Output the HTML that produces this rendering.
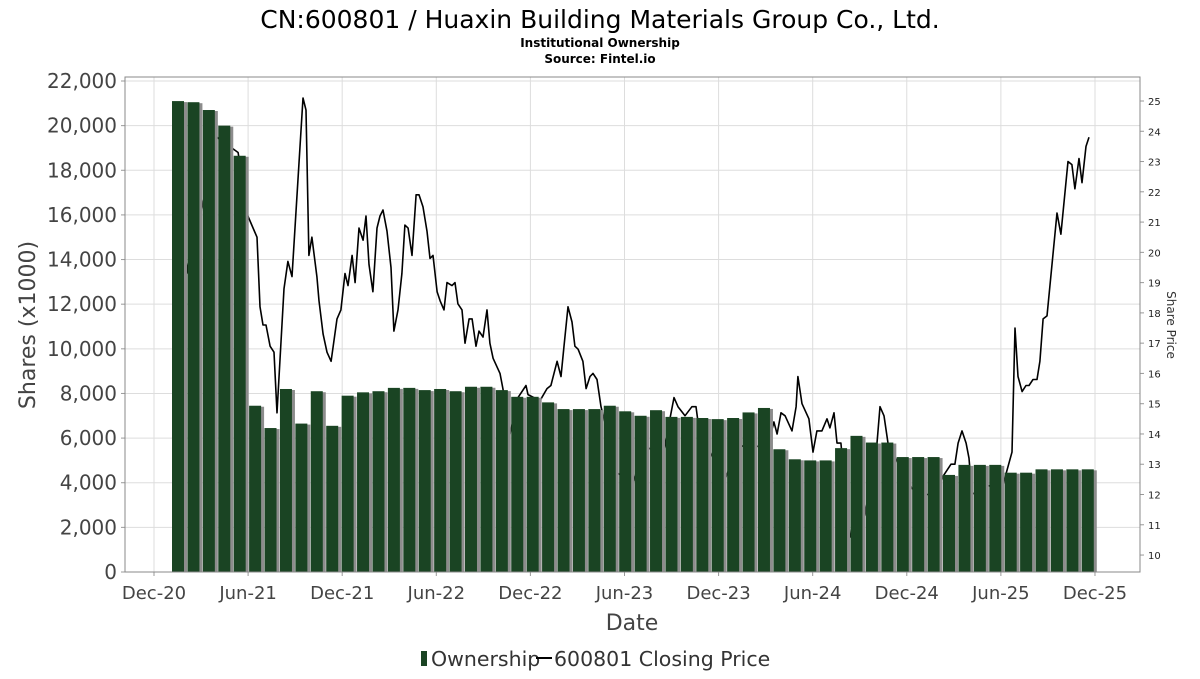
<!DOCTYPE html>
<html><head><meta charset="utf-8"><style>
body{margin:0;background:#fff;width:1200px;height:675px;overflow:hidden;font-family:"DejaVu Sans","Liberation Sans",sans-serif}
svg text{font-family:"DejaVu Sans","Liberation Sans",sans-serif}
</style></head><body>
<svg id="chart" width="1200" height="675" viewBox="0 0 1200 675" xmlns="http://www.w3.org/2000/svg">
<text x="600" y="28" text-anchor="middle" font-size="25" fill="#000">CN:600801 / Huaxin Building Materials Group Co., Ltd.</text>
<text x="600" y="47" text-anchor="middle" font-size="12" font-weight="bold" fill="#000">Institutional Ownership</text>
<text x="600" y="63" text-anchor="middle" font-size="12" font-weight="bold" fill="#000">Source: Fintel.io</text>
<g id="grid"></g>
<g id="line"></g>
<g id="bars"></g>
<g id="axes"></g>
<text transform="translate(35,325) rotate(-90)" text-anchor="middle" font-size="22" fill="#444">Shares (x1000)</text>
<text transform="translate(1167,325) rotate(90)" text-anchor="middle" font-size="12" fill="#333">Share Price</text>
<text x="632" y="630" text-anchor="middle" font-size="22" fill="#444">Date</text>
<g>
<rect x="421" y="651" width="6" height="15" fill="#1a4423"/>
<text x="431" y="666" font-size="20.5" fill="#333">Ownership</text>
<line x1="536" y1="658" x2="552" y2="658" stroke="#000" stroke-width="2"/>
<text x="554" y="666" font-size="20.5" fill="#333">600801 Closing Price</text>
</g>
</svg>
<script>
const xTickLabels=["Dec-20","Jun-21","Dec-21","Jun-22","Dec-22","Jun-23","Dec-23","Jun-24","Dec-24","Jun-25","Dec-25"];
const yTicks=[0,2000,4000,6000,8000,10000,12000,14000,16000,18000,20000,22000];
const y2Ticks=[10,11,12,13,14,15,16,17,18,19,20,21,22,23,24,25];
const ownership=[21100,21050,20700,20000,18650,7450,6450,8200,6650,8100,6550,7900,8050,8100,8250,8250,8150,8200,8100,8300,8300,8150,7850,7850,7600,7300,7300,7300,7450,7200,7000,7250,6950,6950,6900,6850,6900,7150,7350,5500,5050,5000,5000,5550,6100,5800,5800,5150,5150,5150,4350,4800,4800,4800,4450,4450,4600,4600,4600,4600];
const priceMonths=[1.79,2.17,4.02,5.36,5.99,6.57,6.76,6.95,7.14,7.40,7.65,7.84,8.29,8.54,8.80,9.50,9.69,9.88,10.07,10.39,10.52,10.78,11.03,11.29,11.67,11.92,12.18,12.37,12.63,12.82,13.07,13.33,13.52,13.71,13.96,14.22,14.41,14.60,14.86,15.11,15.30,15.56,15.81,16.00,16.20,16.45,16.71,16.90,17.15,17.41,17.60,17.79,18.05,18.24,18.49,18.68,19.00,19.19,19.38,19.64,19.83,20.09,20.28,20.53,20.72,20.98,21.23,21.42,21.62,22.06,22.25,22.70,23.21,23.72,23.85,24.61,25.06,25.31,25.70,25.95,26.14,26.40,26.65,26.84,27.04,27.35,27.55,27.80,27.99,28.25,28.50,29.58,30.54,31.31,32.45,33.16,33.41,33.86,34.30,34.56,34.69,35.45,36.41,37.24,38.45,39.09,39.53,39.73,39.98,40.24,40.68,40.94,41.06,41.32,41.76,42.02,42.27,42.59,42.91,43.10,43.36,43.55,43.80,44.38,45.33,46.10,46.29,46.55,46.80,47.38,48.33,49.16,49.93,50.31,50.82,51.07,51.27,51.52,51.78,51.97,52.16,53.11,54.07,54.71,54.90,55.09,55.35,55.60,55.79,56.05,56.30,56.49,56.69,56.94,57.58,57.83,58.28,58.53,58.72,58.98,59.17,59.43,59.62];
const priceValues=[20.5,19.3,23.8,23.3,21.2,20.5,18.2,17.6,17.6,16.9,16.7,14.7,18.8,19.7,19.2,25.1,24.7,19.9,20.5,19.2,18.4,17.3,16.7,16.4,17.8,18.1,19.3,18.9,19.9,19.0,20.8,20.4,21.2,19.6,18.7,20.8,21.2,21.4,20.7,19.5,17.4,18.1,19.3,20.9,20.8,19.9,21.9,21.9,21.5,20.7,19.8,19.9,18.7,18.4,18.1,19.0,18.9,19.0,18.3,18.1,17.0,17.8,17.8,16.9,17.4,17.2,18.1,17.0,16.5,16.0,15.5,14.0,15.2,15.6,15.3,15.1,15.5,15.6,16.4,15.9,16.9,18.2,17.7,16.9,16.8,16.4,15.5,15.9,16.0,15.8,14.9,12.7,12.4,13.6,13.3,15.2,14.9,14.6,14.9,14.9,14.4,13.4,12.5,13.6,13.6,13.5,14.4,14.0,14.7,14.6,14.1,14.9,15.9,15.0,14.5,13.4,14.1,14.1,14.5,14.2,14.7,13.7,13.7,10.6,11.3,13.7,14.9,14.6,13.7,13.1,12.2,12.0,12.0,12.6,13.0,13.0,13.7,14.1,13.7,13.2,12.0,12.3,12.2,13.4,17.5,15.9,15.4,15.6,15.6,15.8,15.8,16.4,17.8,17.9,21.3,20.6,23.0,22.9,22.1,23.1,22.3,23.5,23.8];

const NS="http://www.w3.org/2000/svg";
const L=125,R=1140,T=77,B=572;
const x=m=>154+m*15.683;
const barX=i=>172+i*15.42;
const y=v=>572-v*(491/22000);
const y2=p=>101+(25-p)*30.27;
function mk(tag,attrs,parent){const e=document.createElementNS(NS,tag);for(const k in attrs)e.setAttribute(k,attrs[k]);parent.appendChild(e);return e;}
const grid=document.getElementById('grid'),axes=document.getElementById('axes'),bars=document.getElementById('bars'),lineG=document.getElementById('line');
mk('rect',{x:L,y:T,width:R-L,height:B-T,fill:'#fff'},grid);
yTicks.forEach(v=>{
  const g=mk('line',{x1:L,x2:R,y1:y(v),y2:y(v),stroke:'#ddd','stroke-width':1},grid);
  
  
  mk('line',{x1:L-4,x2:L,y1:y(v),y2:y(v),stroke:'#999'},axes);
  const t=mk('text',{x:L-8,y:y(v)+7,'text-anchor':'end','font-size':20,fill:'#444'},axes);
  t.textContent=v.toLocaleString('en-US');
  
  
});
xTickLabels.forEach((lab,i)=>{
  const xx=x(i*6);
  const g=mk('line',{x1:xx,x2:xx,y1:T,y2:B,stroke:'#ddd','stroke-width':1},grid);
  
  
  mk('line',{x1:xx,x2:xx,y1:B,y2:B+4,stroke:'#999'},axes);
  const t=mk('text',{x:xx,y:599,'text-anchor':'middle','font-size':18,fill:'#444'},axes);
  t.textContent=lab;
  
  
});
y2Ticks.forEach(p=>{
  mk('line',{x1:R,x2:R+4,y1:y2(p),y2:y2(p),stroke:'#999'},axes);
  const t=mk('text',{x:R+8,y:y2(p)+4,'font-size':10,fill:'#222'},axes);
  t.textContent=p;
  
  
});
mk('rect',{x:L,y:T,width:R-L,height:B-T,fill:'none',stroke:'#888','stroke-width':1},axes);
let d='';
priceMonths.forEach((m,i)=>{d+=(i?'L':'M')+x(m).toFixed(1)+','+y2(priceValues[i]).toFixed(1);});
const pl=mk('path',{d:d,fill:'none',stroke:'#000','stroke-width':1.6,'stroke-linejoin':'round'},lineG);


ownership.forEach((v,i)=>{
  const bx=barX(i);
  const sh=mk('rect',{x:bx+3,y:y(v)+1,width:12,height:B-y(v)-1,fill:'#8c8c8c'},bars);
  
  
  const b=mk('rect',{x:bx,y:y(v),width:12,height:B-y(v),fill:'#1a4423'},bars);
  
  
});
</script>
</body></html>
